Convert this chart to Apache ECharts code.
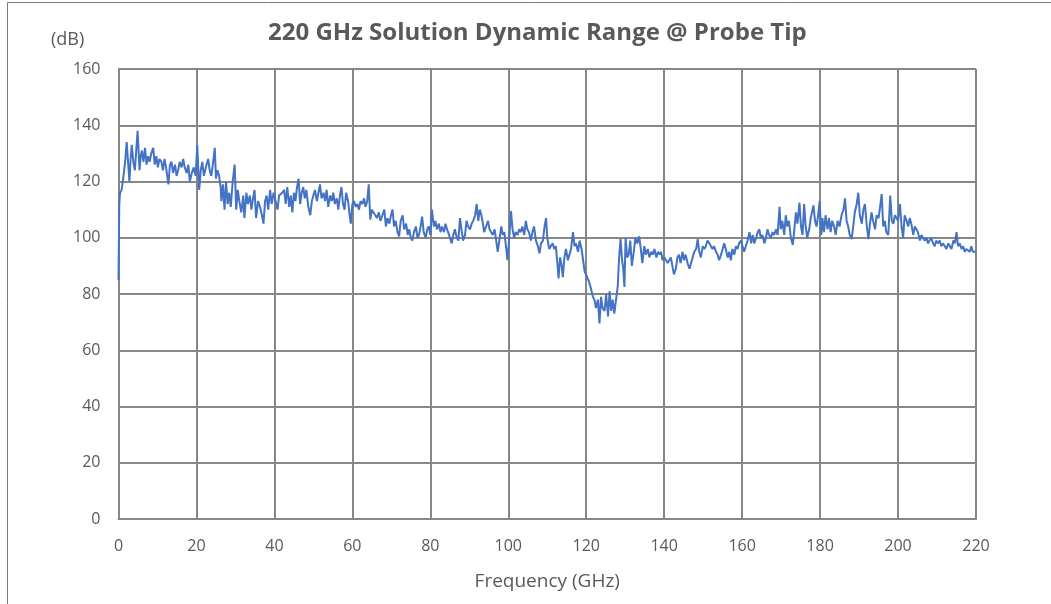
<!DOCTYPE html>
<html>
<head>
<meta charset="utf-8">
<title>220 GHz Solution Dynamic Range</title>
<script src="https://cdn.jsdelivr.net/npm/echarts@6.0.0/dist/echarts.min.js"></script>
<style>
  html, body { margin: 0; padding: 0; background: #fff; }
  .echarts_1 { width: 1051px; height: 604px; }
</style>
</head>
<body>
<div class="echarts_1"></div>
<script>
// frequency points (GHz)
var freqs = [
  0, 0.2, 0.4, 0.8, 1.2, 1.7, 2.1, 2.5, 2.8, 3.1,
  3.4, 3.8, 4.2, 4.5, 4.9, 5.4, 5.7, 6.0, 6.4, 6.8,
  7.2, 7.6, 8.0, 8.4, 8.9, 9.3, 9.7, 10.1, 10.5, 11.0,
  11.4, 11.8, 12.2, 12.8, 13.2, 13.6, 14.0, 14.5, 14.9, 15.3,
  15.7, 16.2, 16.6, 17.0, 17.5, 17.9, 18.3, 18.8, 19.3, 19.8,
  20.2, 20.7, 21.1, 21.5, 21.9, 22.4, 23.0, 23.4, 23.8, 24.2,
  24.7, 25.0, 25.4, 25.8, 26.2, 26.4, 26.8, 27.2, 27.6, 28.0,
  28.4, 28.8, 29.3, 29.8, 30.2, 30.6, 31.0, 31.5, 32.0, 32.3,
  32.8, 33.2, 33.7, 34.1, 34.5, 34.9, 35.3, 35.8, 36.3, 36.8,
  37.2, 37.6, 38.0, 38.4, 38.9, 39.3, 39.8, 40.3, 40.8, 41.2,
  41.6, 42.0, 42.5, 42.9, 43.3, 43.8, 44.2, 44.6, 45.0, 45.4,
  45.8, 46.2, 46.6, 47.0, 47.4, 47.8, 48.2, 48.7, 49.2, 49.6,
  50.0, 50.4, 50.9, 51.3, 51.7, 52.1, 52.6, 53.0, 53.4, 53.8,
  54.3, 54.7, 55.1, 55.5, 56.0, 56.4, 56.8, 57.2, 57.6, 58.0,
  58.4, 58.9, 59.3, 59.6, 60.0, 60.4, 60.9, 61.3, 61.7, 62.1,
  62.6, 63.0, 63.4, 63.8, 64.2, 64.6, 65.0, 65.4, 65.9, 66.3,
  66.8, 67.2, 67.7, 68.2, 68.6, 69.0, 69.5, 69.9, 70.3, 70.7,
  71.1, 71.6, 72.0, 72.4, 72.9, 73.3, 73.8, 74.2, 74.6, 75.0,
  75.4, 75.8, 76.3, 76.7, 77.1, 77.5, 77.9, 78.3, 78.8, 79.2,
  79.6, 80.0, 80.4, 80.9, 81.3, 81.7, 82.2, 82.6, 83.0, 83.5,
  83.9, 84.3, 84.8, 85.5, 85.9, 86.3, 86.8, 87.2, 87.6, 88.0,
  88.4, 88.9, 89.3, 89.7, 90.2, 90.6, 91.0, 91.5, 91.9, 92.3,
  92.7, 93.1, 93.5, 93.8, 94.3, 94.8, 95.2, 95.6, 96.0, 96.5,
  97.0, 97.3, 97.8, 98.2, 98.6, 99.0, 99.4, 99.8, 100.2, 100.7,
  101.1, 101.5, 101.9, 102.4, 102.8, 103.2, 103.6, 104.1, 104.5, 104.9,
  105.3, 105.8, 106.2, 106.6, 107.1, 107.6, 108.0, 108.4, 108.9, 109.3,
  109.7, 110.0, 110.5, 110.9, 111.4, 111.8, 112.2, 112.6, 112.9, 113.3,
  113.7, 114.0, 114.4, 114.8, 115.3, 115.7, 116.1, 116.6, 117.0, 117.4,
  117.9, 118.3, 118.8, 119.2, 119.6, 120.0, 120.4, 120.8, 121.2, 121.7,
  122.1, 122.5, 123.0, 123.4, 123.8, 124.2, 124.7, 125.1, 125.6, 126.0,
  126.4, 126.8, 127.2, 127.7, 128.1, 128.4, 128.8, 129.2, 129.5, 129.8,
  130.1, 130.5, 130.9, 131.3, 131.7, 132.2, 132.6, 133.1, 133.6, 134.0,
  134.4, 134.9, 135.3, 135.8, 136.2, 136.7, 137.1, 137.5, 138.0, 138.4,
  138.8, 139.2, 139.6, 140.0, 140.5, 140.9, 141.3, 141.7, 142.1, 142.5,
  143.0, 143.4, 143.8, 144.2, 144.7, 145.1, 145.5, 146.0, 146.5, 146.9,
  147.3, 147.7, 148.2, 148.6, 149.0, 149.4, 149.9, 150.3, 150.7, 151.1,
  151.6, 152.0, 152.4, 152.8, 153.3, 153.7, 154.1, 154.6, 155.0, 155.4,
  155.8, 156.3, 156.7, 157.1, 157.5, 158.0, 158.4, 158.8, 159.2, 159.7,
  160.1, 160.5, 161.0, 161.4, 161.9, 162.3, 162.7, 163.1, 163.6, 164.0,
  164.4, 164.8, 165.2, 165.7, 166.1, 166.5, 166.9, 167.4, 167.8, 168.2,
  168.7, 169.1, 169.6, 169.9, 170.3, 170.8, 171.2, 171.6, 172.0, 172.5,
  173.0, 173.4, 173.8, 174.2, 174.7, 175.1, 175.5, 175.9, 176.3, 176.7,
  177.2, 177.6, 178.3, 178.7, 179.1, 179.5, 179.9, 180.3, 180.6, 181.0,
  181.4, 181.9, 182.3, 182.7, 183.1, 183.6, 184.0, 184.5, 185.0, 185.5,
  186.0, 186.4, 186.8, 187.2, 187.6, 188.1, 188.5, 188.9, 189.4, 189.8,
  190.2, 190.7, 191.1, 191.5, 192.0, 192.4, 192.8, 193.2, 193.6, 194.1,
  194.5, 195.0, 195.4, 195.8, 196.2, 196.6, 197.0, 197.5, 198.0, 198.4,
  198.8, 199.2, 199.6, 200.0, 200.5, 200.9, 201.3, 201.7, 202.2, 202.6,
  203.0, 203.4, 203.9, 204.3, 204.7, 205.1, 205.6, 206.0, 206.4, 206.8,
  207.3, 207.7, 208.1, 208.5, 209.0, 209.4, 209.8, 210.2, 210.7, 211.1,
  211.5, 212.0, 212.4, 212.9, 213.3, 213.7, 214.2, 214.6, 215.0, 215.4,
  215.8, 216.3, 216.7, 217.1, 217.5, 218.0, 218.4, 218.8, 219.2, 219.6,
  220.0
];

// dynamic range at the probe tip (dB), same order as freqs
var dynRange = [
  85, 112, 116, 117, 121, 127, 134, 126, 120, 128,
  133, 127, 124, 130, 138, 124, 129, 131, 127, 132,
  126, 129, 127, 130, 132, 126, 129, 125, 128, 127,
  124, 128, 125, 119, 126, 127, 123, 126, 122, 124,
  127, 125, 128, 125, 123, 126, 120, 123, 125, 122,
  133, 117, 124, 127, 122, 125, 128, 124, 122, 126,
  132, 121, 124, 122, 118, 113, 119, 110, 120, 112,
  116, 111, 120, 126, 110, 117, 113, 109, 115, 107,
  116, 112, 115, 110, 114, 117, 107, 113, 111, 108,
  105, 113, 115, 110, 117, 112, 116, 113, 110, 115,
  115, 116, 117, 112, 118, 111, 115, 109, 116, 113,
  118, 121, 112, 116, 118, 114, 117, 111, 108, 113,
  115, 117, 113, 116, 119, 114, 116, 113, 117, 111,
  115, 113, 116, 112, 114, 110, 115, 118, 112, 110,
  116, 113, 108, 105, 112, 113, 111, 112, 110, 113,
  112, 114, 111, 113, 119, 106.5, 110, 109, 108, 107,
  109, 106, 108, 110, 104, 107, 105, 108, 110, 104,
  106, 102, 100.5, 106, 108, 103, 105, 101, 103, 100,
  99, 102, 104, 100, 101, 104, 107.5, 102, 100, 103,
  104, 101, 110, 104, 106, 103, 105, 102, 104, 102,
  105, 103, 101, 98, 101, 103, 100, 99, 107, 103,
  99, 101, 106, 104, 103, 105, 106, 108, 112, 106,
  110, 108, 105, 102, 104, 106, 103, 102, 101, 103,
  98, 95, 100, 104, 101, 102, 97, 92, 99, 109.5,
  103, 100, 102, 101, 103, 102, 104, 101, 106, 103,
  102, 99, 102, 104, 99, 97, 94.5, 98, 99, 104,
  107, 100, 96, 97, 98, 96, 97, 91, 85.5, 93,
  90, 86, 93, 96, 92, 94, 96, 102, 97, 98,
  95, 99, 96, 92, 88, 87.5, 85.5, 84, 82, 79,
  78, 75, 78, 69.5, 79, 75, 74, 80, 72, 81,
  74, 78, 73, 72.5, 83, 92, 99.5, 92, 89, 82.5,
  100, 93, 94, 99, 90, 95, 100, 98, 100.5, 96,
  91, 97, 94, 96, 93, 95, 94, 96, 93, 95,
  94, 95, 92, 93, 92, 91, 91, 93, 90, 87,
  89, 93, 94, 91, 95, 92, 94, 91, 89, 88.5,
  93, 95, 96, 99.5, 95, 93, 97, 96, 97, 99,
  98, 97, 96, 97, 95, 94, 92, 94, 96, 98,
  96, 93, 95, 92, 96, 94, 97, 96, 98, 99,
  97, 95, 94.5, 99, 102, 98, 101, 98, 100, 102,
  103, 100, 101, 98, 100, 103, 101, 100, 102, 101,
  103, 101, 111, 103, 106, 101, 108, 104, 106, 100,
  97.5, 103, 109, 105, 112.5, 104, 101, 112, 104, 100,
  103, 107, 111.5, 106, 104, 108, 113, 101, 107, 102,
  108, 103, 107, 102, 106, 104, 101, 106, 104, 108,
  110, 114, 106, 104, 101, 99.5, 104, 109, 112, 116,
  108, 105, 110, 112, 104, 99.5, 105, 109, 106, 103,
  108, 107, 111, 115.5, 104, 106, 102, 101, 115, 106,
  105, 108, 107, 106, 112, 104, 100, 108, 106, 104,
  107, 105, 101, 104, 103, 102, 99, 101, 100, 99,
  100, 98, 99, 100, 98, 97, 99, 98, 99, 97,
  98, 97, 96, 98, 97, 96, 99, 98, 102, 97,
  98, 96, 97, 95, 96, 96, 95, 97, 95, 94.5,
  95
];

// axis ticks
var xTicks = { min: 0, max: 220, step: 20 };
var yTicks = { min: 0, max: 160, step: 20 };

var lineData = freqs.map(function (f, i) { return [f, dynRange[i]]; });

var chart = echarts.init(document.querySelector('.echarts_1'));

var grey = '#595959';
var gridGrey = '#878787';
var font = '"Open Sans", "Noto Sans", sans-serif';

var option = {
  animation: false,
  backgroundColor: '#fff',
  title: {
    text: '220 GHz Solution Dynamic Range @ Probe Tip',
    left: 263,
    top: 16,
    textStyle: { color: grey, fontSize: 24, fontWeight: 'bold', fontFamily: font }
  },
  // outer frame + the (dB) unit label
  graphic: [
    {
      type: 'rect',
      shape: { x: 7.5, y: 2.5, width: 1100, height: 700 },
      style: { fill: 'none', stroke: '#7a7a7a', lineWidth: 1 },
      silent: true
    },
    {
      type: 'text',
      left: 51,
      top: 31,
      style: { text: '(dB)', fill: grey, font: '18px ' + font }
    }
  ],
  grid: { left: 118.5, right: 75, top: 69, bottom: 85, containLabel: false },
  xAxis: {
    type: 'value',
    min: xTicks.min,
    max: xTicks.max,
    interval: xTicks.step,
    name: 'Frequency (GHz)',
    nameLocation: 'middle',
    nameGap: 53,
    nameTextStyle: { color: grey, fontSize: 19, fontFamily: font },
    axisLine: { show: true, lineStyle: { color: gridGrey, width: 2 } },
    axisTick: { show: false },
    axisLabel: { color: grey, fontSize: 16, fontFamily: font, margin: 19 },
    splitLine: { show: true, lineStyle: { color: gridGrey, width: 2 } }
  },
  yAxis: {
    type: 'value',
    min: yTicks.min,
    max: yTicks.max,
    interval: yTicks.step,
    axisLine: { show: true, lineStyle: { color: gridGrey, width: 2 } },
    axisTick: { show: false },
    axisLabel: { color: grey, fontSize: 16, fontFamily: font, margin: 18 },
    splitLine: { show: true, lineStyle: { color: gridGrey, width: 2 } }
  },
  series: [{
    name: 'Dynamic Range',
    type: 'line',
    data: lineData,
    showSymbol: false,
    symbol: 'none',
    lineStyle: { color: '#4472c4', width: 2 },
    z: 3
  }]
};

chart.setOption(option);
</script>
</body>
</html>
